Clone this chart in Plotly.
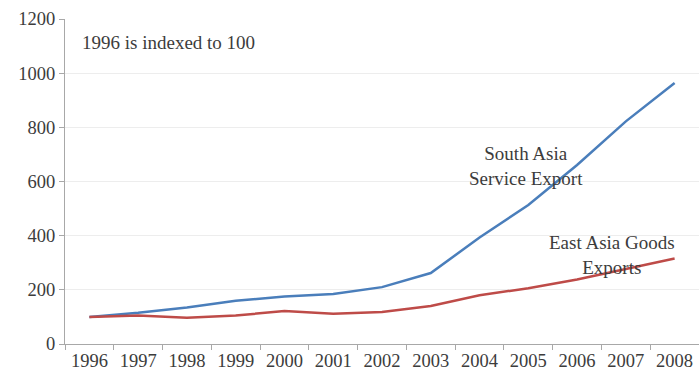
import plotly.graph_objects as go

years = ["1996", "1997", "1998", "1999", "2000", "2001", "2002",
         "2003", "2004", "2005", "2006", "2007", "2008"]
south_asia_services = [100, 115, 135, 160, 175, 185, 210, 262, 393, 513, 661, 822, 964]
east_asia_goods = [100, 105, 97, 105, 122, 112, 118, 140, 180, 206, 238, 278, 316]
y_ticks = [0, 200, 400, 600, 800, 1000, 1200]

FONT = "Liberation Serif"
TXT = "#3c3c3c"
TICK_SIZE = 18.5
NOTE_SIZE = 19

fig = go.Figure()
fig.add_trace(go.Scatter(x=years, y=south_asia_services, mode="lines",
                         line=dict(color="#4A7EBB", width=2.5),
                         name="South Asia Service Export"))
fig.add_trace(go.Scatter(x=years, y=east_asia_goods, mode="lines",
                         line=dict(color="#BE4B48", width=2.5),
                         name="East Asia Goods Exports"))

note_font = dict(size=NOTE_SIZE, family=FONT, color=TXT)

fig.update_layout(
    width=699, height=375,
    margin=dict(l=65, r=0, t=19, b=31),
    paper_bgcolor="white", plot_bgcolor="white",
    showlegend=False,
    font=dict(family=FONT, size=TICK_SIZE, color=TXT),
    xaxis=dict(type="category", range=[-0.5, 12.5], tickson="boundaries",
               ticks="outside", ticklen=5, tickcolor="#a8a8a8",
               showline=True, linecolor="#a8a8a8", linewidth=1,
               showgrid=False, tickfont=dict(size=TICK_SIZE, family=FONT, color=TXT)),
    yaxis=dict(range=[0, 1200], tickvals=y_ticks, ticks="outside", ticklen=5,
               tickcolor="#a8a8a8", showline=True, linecolor="#a8a8a8",
               linewidth=1, showgrid=True, gridcolor="#ededed", zeroline=False,
               tickfont=dict(size=TICK_SIZE, family=FONT, color=TXT)),
    annotations=[
        dict(x=0.023, y=1115, xref="paper", yref="y", text="1996 is indexed to 100",
             showarrow=False, xanchor="left", yanchor="middle", font=note_font),
        dict(x=8.95, y=657, xref="x", yref="y",
             text="South Asia<br>Service Export", showarrow=False,
             xanchor="center", yanchor="middle", align="center", font=note_font),
        dict(x=10.72, y=329, xref="x", yref="y",
             text="East Asia Goods<br>Exports", showarrow=False,
             xanchor="center", yanchor="middle", align="center", font=note_font),
    ],
)

fig.write_html("out.html")
